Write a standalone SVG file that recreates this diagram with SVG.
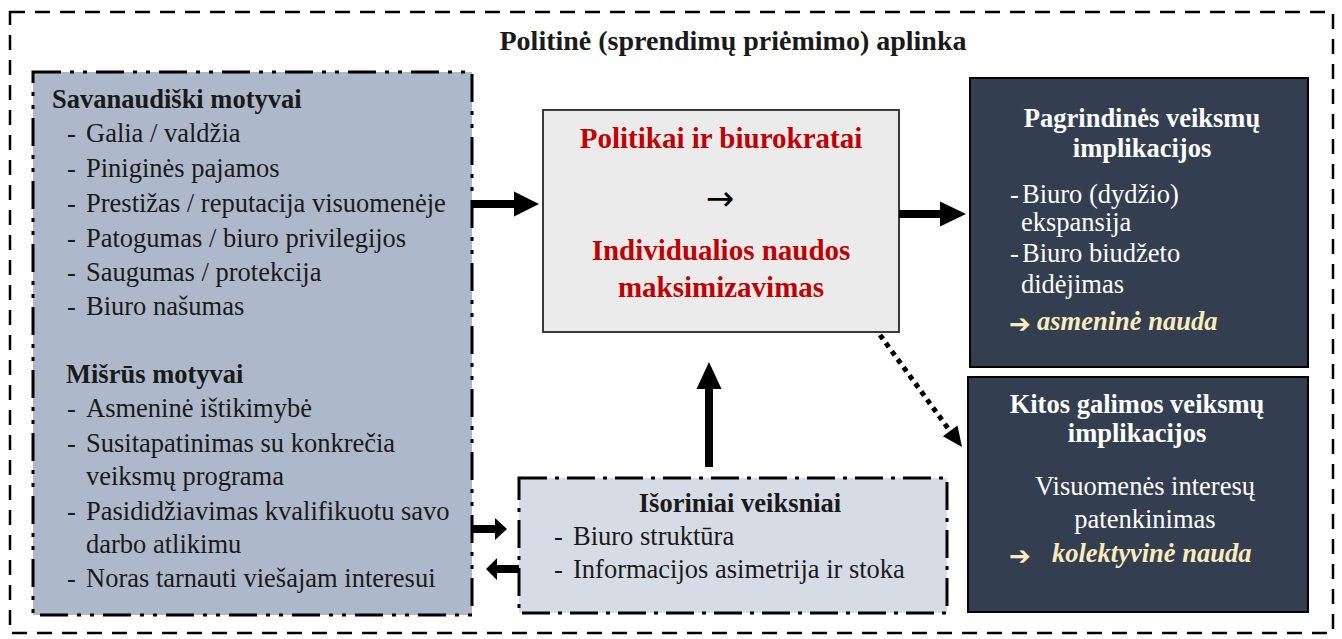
<svg xmlns="http://www.w3.org/2000/svg" width="1342" height="639" viewBox="0 0 1342 639">
<style>
  text { font-family: "Liberation Serif", "Times New Roman", serif; font-size: 26.5px; fill: #1a1a1a; }
  .b { font-weight: bold; }
  .red { fill: #c00000; font-weight: bold; font-size: 29px; }
  .w { fill: #ffffff; }
  .cream { fill: #fbecbf; font-weight: bold; font-style: italic; }
  .sym { font-family: "DejaVu Sans", sans-serif; }
  .pt { font-size: 26px; fill: #fbecbf; }
  .mid { text-anchor: middle; }
  .arrow { fill: #000000; }
</style>
<rect width="1342" height="639" fill="#ffffff"/>
<g id="outer">
  <rect x="10" y="12" width="1323" height="621" fill="none" stroke="#000" stroke-width="2.5" stroke-dasharray="15 10"/>
  <text class="b mid" x="733" y="50" style="font-size:28px">Politinė (sprendimų priėmimo) aplinka</text>
</g>
<g id="motives">
  <rect x="33" y="72" width="439" height="543" fill="#adb9ca" stroke="#000" stroke-width="3" stroke-dasharray="28 9 4 9 4 9"/>
  <text class="b" x="52" y="108">Savanaudiški motyvai</text>
  <text x="67" y="142">-</text><text x="86" y="142">Galia / valdžia</text>
  <text x="67" y="177">-</text><text x="86" y="177">Piniginės pajamos</text>
  <text x="67" y="212">-</text><text x="86" y="212">Prestižas / reputacija visuomenėje</text>
  <text x="67" y="247">-</text><text x="86" y="247">Patogumas / biuro privilegijos</text>
  <text x="67" y="281">-</text><text x="86" y="281">Saugumas / protekcija</text>
  <text x="67" y="315">-</text><text x="86" y="315">Biuro našumas</text>
  <text class="b" x="66" y="383">Mišrūs motyvai</text>
  <text x="67" y="417">-</text><text x="86" y="417">Asmeninė ištikimybė</text>
  <text x="67" y="452">-</text><text x="86" y="452">Susitapatinimas su konkrečia</text>
  <text x="86" y="485">veiksmų programa</text>
  <text x="67" y="520">-</text><text x="86" y="520">Pasididžiavimas kvalifikuotu savo</text>
  <text x="86" y="553">darbo atlikimu</text>
  <text x="67" y="587">-</text><text x="86" y="587">Noras tarnauti viešajam interesui</text>
</g>
<g id="actors">
  <rect x="543" y="110" width="356" height="222" fill="#ebebeb" stroke="#3a3a3a" stroke-width="2"/>
  <text class="red mid" x="721" y="148">Politikai ir biurokratai</text>
  <text class="sym mid" x="720" y="210" style="font-size:34px;fill:#000">→</text>
  <text class="red mid" x="721" y="260">Individualios naudos</text>
  <text class="red mid" x="721" y="297">maksimizavimas</text>
</g>
<g id="main-implications">
  <rect x="970" y="78" width="338" height="289" fill="#333f50" stroke="#000" stroke-width="2"/>
  <text class="b w mid" x="1142" y="127">Pagrindinės veiksmų</text>
  <text class="b w mid" x="1142" y="157">implikacijos</text>
  <text class="w" x="1010" y="203">-</text><text class="w" x="1022" y="203">Biuro (dydžio)</text>
  <text class="w" x="1021" y="231">ekspansija</text>
  <text class="w" x="1010" y="262">-</text><text class="w" x="1022" y="262">Biuro biudžeto</text>
  <text class="w" x="1021" y="293">didėjimas</text>
  <text class="sym pt" x="1009" y="333">➔</text>
  <text class="cream" x="1037" y="330">asmeninė nauda</text>
</g>
<g id="other-implications">
  <rect x="968" y="377" width="340" height="235" fill="#333f50" stroke="#000" stroke-width="2"/>
  <text class="b w mid" x="1137" y="413">Kitos galimos veiksmų</text>
  <text class="b w mid" x="1137" y="442">implikacijos</text>
  <text class="w mid" x="1145" y="495">Visuomenės interesų</text>
  <text class="w mid" x="1145" y="528">patenkinimas</text>
  <text class="sym pt" x="1009" y="565">➔</text>
  <text class="cream" x="1052" y="562">kolektyvinė nauda</text>
</g>
<g id="external">
  <rect x="519" y="478" width="428" height="135" fill="#d6dce5" stroke="#000" stroke-width="3" stroke-dasharray="28 8 4 8"/>
  <text class="b mid" x="740" y="512">Išoriniai veiksniai</text>
  <text x="554" y="545">-</text><text x="573" y="545">Biuro struktūra</text>
  <text x="554" y="578">-</text><text x="573" y="578">Informacijos asimetrija ir stoka</text>
</g>
<g id="connectors">
  <polygon class="arrow" points="472,200 514,200 514,191.5 539,204 514,216.5 514,208 472,208"/>
  <polygon class="arrow" points="899,210 940,210 940,201.5 966,214 940,226.5 940,218 899,218"/>
  <polygon class="arrow" points="705,467 705,389 696.5,389 709,362 721.5,389 713,389 713,467"/>
  <polygon class="arrow" points="472,525 495,525 495,518 507,529 495,540 495,533 472,533"/>
  <polygon class="arrow" points="519,565 497,565 497,558 486,569 497,580 497,573 519,573"/>
  <line x1="880" y1="335" x2="950" y2="431" stroke="#000" stroke-width="5" stroke-dasharray="5 5"/>
  <polygon class="arrow" points="962,447 942.9,436.2 957.5,425.6"/>
</g>
</svg>
